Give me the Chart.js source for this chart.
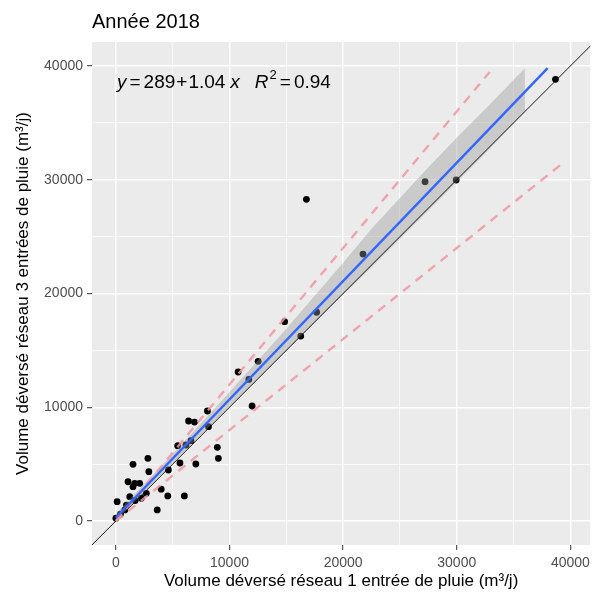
<!DOCTYPE html>
<html>
<head>
<meta charset="utf-8">
<script src="https://cdn.jsdelivr.net/npm/chart.js@4.4.0/dist/chart.umd.min.js"></script>
<style>
  html, body { margin: 0; padding: 0; background: #fff; }
  canvas { display: block; }
</style>
</head>
<body>
<canvas id="chart" width="595" height="596"></canvas>
<script>
// observations (m3/j)
const xObs = [0, 110, 400, 790, 930, 1220, 1070, 1510, 1660, 2100, 1510, 2820, 2900, 1700, 2240, 2680,
  3640, 3990, 4570, 4620, 5640, 6030, 5440, 6170, 6610, 7040, 6400, 6920, 8060, 8150, 8930, 9020,
  10760, 11700, 11990, 12520, 14850, 16270, 17670, 16770, 21750, 27210, 29950, 38690]
const yObs = [240, 1700, 600, 970, 1400, 2140, 3450, 3020, 3310, 3310, 4985, 5510, 4335, 1800, 2000, 2435,
  970, 2800, 2200, 4485, 5100, 2200, 6620, 6680, 7060, 5010, 8790, 8700, 9670, 8290, 6480, 5510,
  13100, 12450, 10110, 14040, 17520, 16260, 18350, 28280, 23470, 29830, 29980, 38830]

// fitted line and its band
const fitX = [0, 38000]
const fitY = [289, 39809]
const bandX = [0, 2500, 5000, 7500, 10000, 12500, 15000, 17500, 20000, 22500, 25000, 27500, 30000, 32500, 36000]
const bandLow = [-50, 2550, 5100, 7600, 10050, 12500, 14950, 17400, 19900, 22300, 24800, 27300, 29800, 32300, 35980]
const bandHigh = [650, 3250, 5900, 8600, 11350, 14100, 16900, 19800, 22700, 25700, 28400, 31100, 33700, 36200, 39800]

// +/- 20 % lines and 1:1 line
const upperX = [0, 32900]
const upperY = [0, 39480]
const lowerX = [0, 39400]
const lowerY = [0, 31520]
const idX = [-2500, 42500]
const idY = [-2500, 42500]

const majorTicks = [0, 10000, 20000, 30000, 40000]
const minorTicks = [5000, 15000, 25000, 35000]
const xLimits = [-2100, 41750]
const yLimits = [-2110, 42110]

const FONT = "'Liberation Sans', Arial, sans-serif"
const pairs = (xs, ys) => xs.map((x, i) => ({ x: x, y: ys[i] }))
const isMajor = v => majorTicks.includes(v)
const allTicks = majorTicks.concat(minorTicks).sort((a, b) => a - b)

const panelBg = {
  id: 'panelBg',
  beforeDraw(chart) {
    const { ctx, chartArea: a } = chart
    ctx.save()
    ctx.fillStyle = '#fff'
    ctx.fillRect(0, 0, chart.width, chart.height)
    ctx.fillStyle = '#ebebeb'
    ctx.fillRect(a.left, a.top, a.right - a.left, a.bottom - a.top)
    ctx.restore()
  }
}

const labels = {
  id: 'labels',
  afterDraw(chart) {
    const { ctx, chartArea: a } = chart
    ctx.save()
    ctx.fillStyle = '#000'
    ctx.textBaseline = 'alphabetic'
    ctx.font = '20px ' + FONT
    ctx.fillText('Année 2018', a.left, 28)

    // equation label
    const parts = [
      ['y', 'italic ', 0, 0], ['=', '', 3, 0], ['289', '', 3, 0], ['+', '', 1, 0], ['1.04', '', 1, 0],
      ['x', 'italic ', 5, 0], ['R', 'italic ', 15, 0], ['2', 'sup', 1, -9], ['=', '', 3, 0], ['0.94', '', 3, 0]
    ]
    let x = a.left + 25
    const base = a.top + 46
    parts.forEach(([t, style, gap, dy]) => {
      x += gap
      ctx.font = style === 'sup' ? '13px ' + FONT : style + '19px ' + FONT
      ctx.fillText(t, x, base + dy)
      x += ctx.measureText(t).width
    })
    ctx.restore()
  }
}

const gridOpts = {
  color: '#fff',
  lineWidth: c => (c.tick && isMajor(c.tick.value) ? 1.4 : 0.7),
  tickColor: c => (c.tick && isMajor(c.tick.value) ? '#333' : 'rgba(0,0,0,0)'),
  tickLength: 5,
  tickWidth: 1
}
const tickOpts = {
  callback: v => (isMajor(v) ? String(v) : ''),
  color: '#4d4d4d',
  font: { family: FONT, size: 14 },
  maxRotation: 0,
  autoSkip: false
}

const lineDs = (data, color, width, order, dash) => ({
  type: 'scatter',
  data: data,
  showLine: true,
  pointRadius: 0,
  borderColor: color,
  borderWidth: width,
  borderDash: dash || [],
  fill: false,
  clip: 0,
  order: order
})

new Chart(document.getElementById('chart'), {
  type: 'scatter',
  data: {
    datasets: [
      {
        data: pairs(xObs, yObs),
        pointRadius: 3.4,
        pointBackgroundColor: '#000',
        pointBorderWidth: 0,
        order: 10
      },
      lineDs(pairs(bandX, bandLow), 'rgba(0,0,0,0)', 0, 9),
      Object.assign(lineDs(pairs(bandX, bandHigh), 'rgba(0,0,0,0)', 0, 8), {
        fill: '-1',
        backgroundColor: 'rgba(153,153,153,0.4)'
      }),
      lineDs(pairs(idX, idY), '#000', 0.9, 6),
      lineDs(pairs(upperX, upperY), 'rgba(242,150,160,0.85)', 2.4, 5, [9, 7]),
      lineDs(pairs(lowerX, lowerY), 'rgba(242,150,160,0.85)', 2.4, 5, [9, 7]),
      lineDs(pairs(fitX, fitY), '#3366ff', 2.4, 4)
    ]
  },
  options: {
    responsive: false,
    animation: false,
    devicePixelRatio: 1,
    layout: { padding: { top: 42, right: 1, left: 0, bottom: 0 } },
    plugins: { legend: { display: false }, tooltip: { enabled: false } },
    scales: {
      x: {
        type: 'linear',
        min: xLimits[0],
        max: xLimits[1],
        afterBuildTicks: s => { s.ticks = allTicks.map(v => ({ value: v })) },
        afterFit: s => { s.height = 51 },
        grid: gridOpts,
        border: { display: false },
        ticks: Object.assign({ padding: 5 }, tickOpts),
        title: {
          display: true,
          text: 'Volume déversé réseau 1 entrée de pluie (m³/j)',
          color: '#000',
          font: { family: FONT, size: 17 },
          padding: { top: 0, bottom: 4 }
        }
      },
      y: {
        type: 'linear',
        min: yLimits[0],
        max: yLimits[1],
        afterBuildTicks: s => { s.ticks = allTicks.map(v => ({ value: v })) },
        afterFit: s => { s.width = 92 },
        grid: gridOpts,
        border: { display: false },
        ticks: Object.assign({ padding: 4 }, tickOpts),
        title: {
          display: true,
          text: 'Volume déversé réseau 3 entrées de pluie (m³/j)',
          color: '#000',
          font: { family: FONT, size: 17 },
          padding: { top: 13, bottom: 0 }
        }
      }
    }
  },
  plugins: [panelBg, labels]
})
</script>
</body>
</html>
